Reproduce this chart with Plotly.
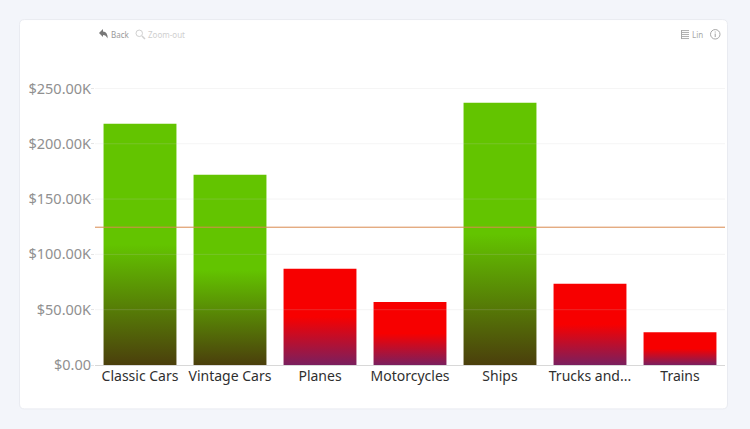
import plotly.graph_objects as go

categories = ["Classic Cars", "Vintage Cars", "Planes", "Motorcycles", "Ships", "Trucks and...", "Trains"]
sales_k = [218, 172, 87, 57, 237, 73.5, 29.5]
goal_k = 124.55
tick_vals = [0, 50, 100, 150, 200, 250]
tick_text = ["$0.00", "$50.00K", "$100.00K", "$150.00K", "$200.00K", "$250.00K"]

GREEN, GREEN_END = "#63c400", "#4b3f0c"
RED, RED_END = "#f70000", "#7a1f5e"
FONT = "Noto Sans"
W, H = 750, 429
PL, PR, PT, PB = 95, 725, 60, 365.5
px = lambda x: (x - PL) / (PR - PL)
py = lambda y: (PB - y) / (PB - PT)

bar_colors = [GREEN if v >= goal_k else RED for v in sales_k]

fig = go.Figure(go.Bar(x=categories, y=sales_k, width=0.81, marker=dict(color=bar_colors, line=dict(width=0)), hoverinfo="skip"))

CT, CB, CL, CR = 19.5, 409.5, 19.5, 727.5
shapes = [dict(type="path", xref="paper", yref="paper", layer="below",
               path=f"M {px(CL+5)} {py(CT)} L {px(CR-5)} {py(CT)} Q {px(CR)} {py(CT)} {px(CR)} {py(CT+5)} "
                    f"L {px(CR)} {py(CB-5)} Q {px(CR)} {py(CB)} {px(CR-5)} {py(CB)} "
                    f"L {px(CL+5)} {py(CB)} Q {px(CL)} {py(CB)} {px(CL)} {py(CB-5)} "
                    f"L {px(CL)} {py(CT+5)} Q {px(CL)} {py(CT)} {px(CL+5)} {py(CT)} Z",
               fillcolor="white", line=dict(color="#e9ebf1", width=1))]
for t in tick_vals[1:]:
    shapes.append(dict(type="line", xref="paper", yref="y", x0=0, x1=1, y0=t, y1=t, layer="above",
                       line=dict(color="rgba(200,200,200,0.2)", width=1)))
shapes.append(dict(type="line", xref="paper", yref="y", x0=0, x1=1, y0=goal_k, y1=goal_k, layer="above",
                   line=dict(color="#d98a4e", width=1)))

def seg(x0, y0, x1, y1, color, width=1):
    return dict(type="line", xref="paper", yref="paper", x0=px(x0), y0=py(y0), x1=px(x1), y1=py(y1),
                line=dict(color=color, width=width))

def ring(x0, y0, x1, y1, color):
    return dict(type="circle", xref="paper", yref="paper", x0=px(x0), y0=py(y0), x1=px(x1), y1=py(y1),
                line=dict(color=color, width=1))

# toolbar icons
shapes += [
    dict(type="path", xref="paper", yref="paper", fillcolor="#777777", line=dict(width=0),
         path=f"M {px(99)} {py(33)} L {px(103)} {py(29)} L {px(103)} {py(31.5)} Q {px(108)} {py(32)} {px(107.5)} {py(38.5)} "
              f"Q {px(106)} {py(35)} {px(103)} {py(35)} L {px(103)} {py(37)} Z"),
    ring(136, 30, 142.5, 36.5, "#d0d0d0"),
    seg(142, 36, 145, 39, "#d0d0d0", 1.5),
    seg(681, 30.5, 689, 30.5, "#b0b0b0"), seg(681, 32.5, 689, 32.5, "#b0b0b0"), seg(681, 34.5, 689, 34.5, "#b0b0b0"),
    seg(681, 36.5, 689, 36.5, "#b0b0b0"), seg(681, 38.5, 689, 38.5, "#b0b0b0"),
    seg(681.5, 30, 681.5, 39, "#a8a8a8"),
    ring(710.5, 29.5, 720, 39, "#a8a8a8"),
    seg(715.2, 33.5, 715.2, 37, "#a0a0a0"),
    seg(715.2, 31.5, 715.2, 32.5, "#a0a0a0"),
]

def label(text, x, y, color, size=8):
    return dict(text=text, xref="paper", yref="paper", x=px(x), y=py(y), xanchor="left", yanchor="middle",
                showarrow=False, borderpad=0, font=dict(family=FONT, size=size, color=color))

fig.update_layout(
    width=W, height=H, autosize=False, showlegend=False,
    paper_bgcolor="#f3f5fa", plot_bgcolor="rgba(0,0,0,0)",
    margin=dict(l=95, r=25, t=60, b=63.5),
    bargap=0.19, shapes=shapes,
    annotations=[label("Back", 110, 34.5, "#9a9a9a"), label("Zoom-out", 147, 34.5, "#cfcfcf"), label("Lin", 691, 34.5, "#a8a8a8")],
    xaxis=dict(type="category", showgrid=False, showline=True, linecolor="#d8d8d8", linewidth=1, ticks="",
               tickfont=dict(family=FONT, size=14, color="#2f2f2f"), tickangle=0, fixedrange=True, ticklabelstandoff=-2),
    yaxis=dict(range=[0, 275.7], tickvals=tick_vals, ticktext=tick_text, showgrid=False, zeroline=False,
               showline=False, ticks="outside", ticklen=3, tickcolor="#e5e5e5", ticklabelstandoff=-3,
               tickfont=dict(family=FONT, size=14.5, color="#909090"), fixedrange=True),
)

post = """
document.body.style.margin = '0';
document.body.style.overflow = 'hidden';
var gd = document.querySelector('.plotly-graph-div');
function paint() {
  var svg = gd.querySelector('svg.main-svg');
  var defs = svg.querySelector('defs');
  var NS = 'http://www.w3.org/2000/svg';
  [['gGreen', '%s', '%s'], ['gRed', '%s', '%s']].forEach(function (g) {
    if (document.getElementById(g[0])) return;
    var lg = document.createElementNS(NS, 'linearGradient');
    lg.setAttribute('id', g[0]); lg.setAttribute('x1', '0'); lg.setAttribute('y1', '0');
    lg.setAttribute('x2', '0'); lg.setAttribute('y2', '1');
    [['0', g[1]], ['0.5', g[1]], ['1', g[2]]].forEach(function (s) {
      var st = document.createElementNS(NS, 'stop');
      st.setAttribute('offset', s[0]); st.setAttribute('stop-color', s[1]);
      lg.appendChild(st);
    });
    defs.appendChild(lg);
  });
  var isGreen = %s;
  var paths = gd.querySelectorAll('.bars .point path');
  paths.forEach(function (p, i) {
    p.style.fill = 'url(#' + (isGreen[i] ? 'gGreen' : 'gRed') + ')';
  });
}
paint();
gd.on('plotly_afterplot', paint);
""" % (GREEN, GREEN_END, RED, RED_END, str([c == GREEN for c in bar_colors]).replace("True", "true").replace("False", "false"))

fig.write_html("out.html", post_script=post, config={"displayModeBar": False})
